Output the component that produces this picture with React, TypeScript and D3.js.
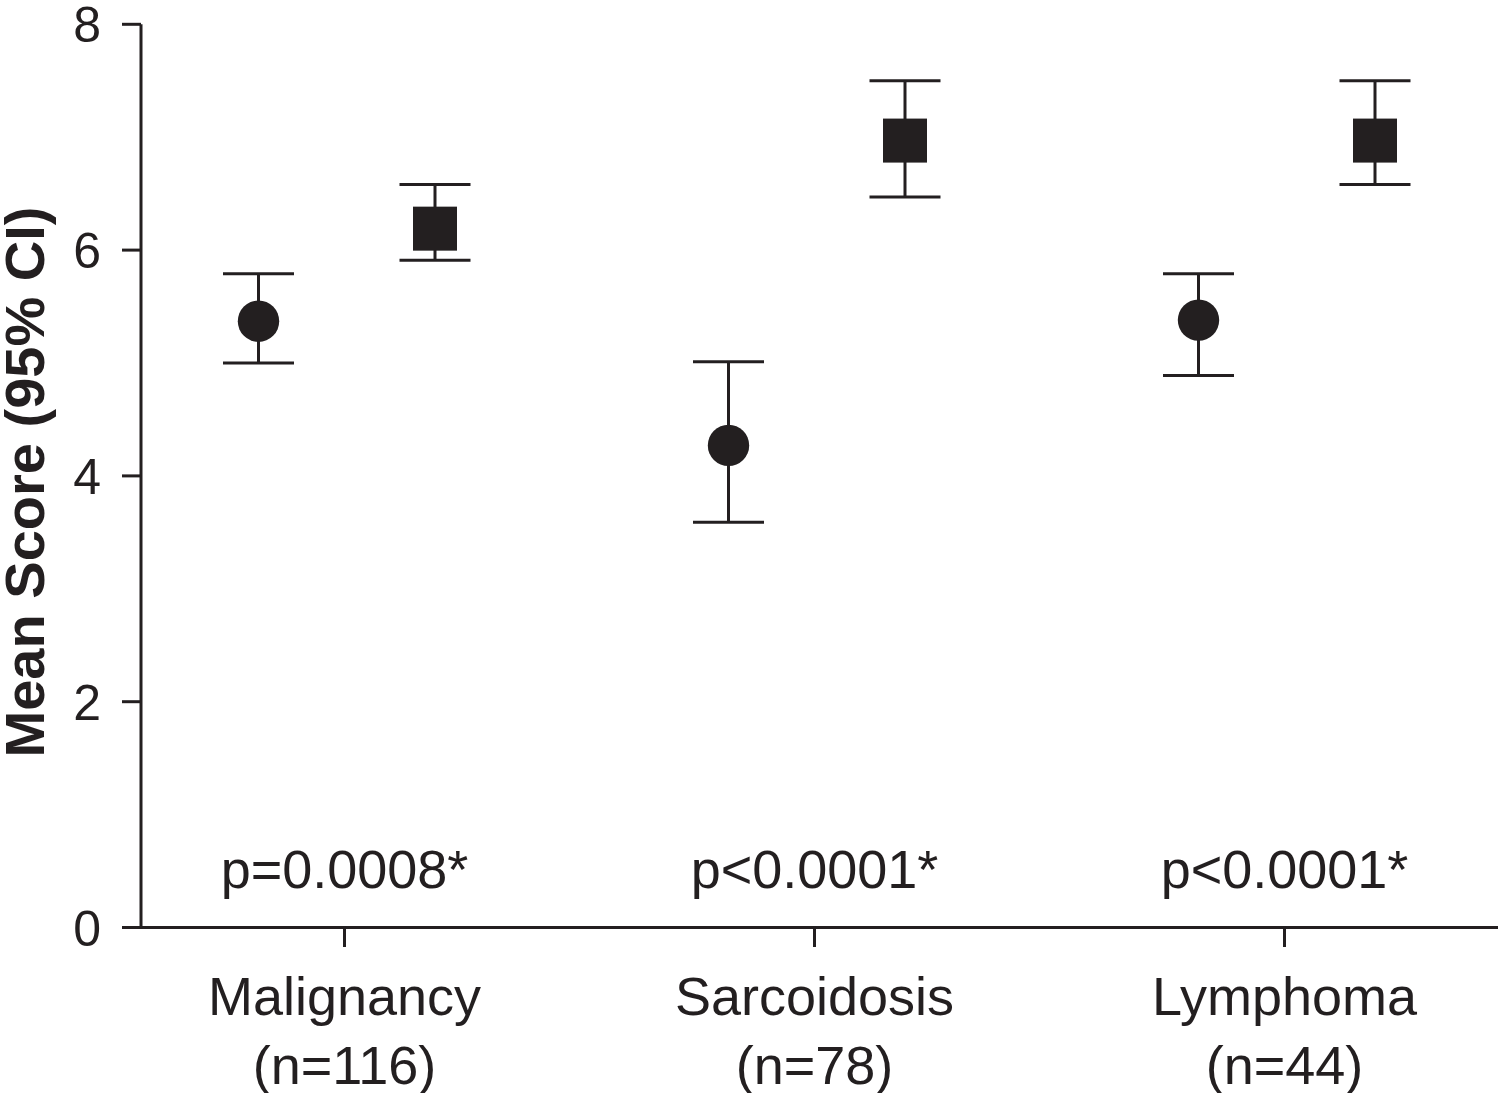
import React from "react";
import * as d3 from "d3";

const categories = ["Malignancy", "Sarcoidosis", "Lymphoma"];
const sampleSizes = ["(n=116)", "(n=78)", "(n=44)"];
const pValues = ["p=0.0008*", "p<0.0001*", "p<0.0001*"];

// series 1: circles
const circleMean = [5.37, 4.27, 5.38];
const circleLow = [5.0, 3.59, 4.89];
const circleHigh = [5.79, 5.01, 5.79];

// series 2: squares
const squareMean = [6.19, 6.97, 6.97];
const squareLow = [5.91, 6.47, 6.58];
const squareHigh = [6.58, 7.5, 7.5];

const yTicks = [0, 2, 4, 6, 8];

const W = 1500;
const H = 1093;
const INK = "#231f20";
const FONT = "Liberation Sans, Arial, Helvetica, sans-serif";

export default function App() {
  const y = d3.scaleLinear().domain([0, 8]).range([927.5, 24.3]);
  const x = d3.scalePoint<string>().domain(categories).range([344.5, 1284.5]);
  const xAxisLeft = 122;
  const xAxisRight = 1498;
  const yAxisX = 141;
  const capHalf = 35.5;
  const circleOffset = -86;
  const squareOffset = 90.5;
  const r = 20.7;
  const sq = 44;

  const errorBar = (cx: number, lo: number, hi: number, key: string) => (
    <g key={key} stroke={INK} strokeWidth={3}>
      <line x1={cx} x2={cx} y1={y(lo)} y2={y(hi)} />
      <line x1={cx - capHalf} x2={cx + capHalf} y1={y(lo)} y2={y(lo)} />
      <line x1={cx - capHalf} x2={cx + capHalf} y1={y(hi)} y2={y(hi)} />
    </g>
  );

  return (
    <svg
      width={W}
      height={H}
      viewBox={`0 0 ${W} ${H}`}
      style={{ position: "absolute", left: 0, top: 0, background: "#fff" }}
      fontFamily={FONT}
    >
      <rect width={W} height={H} fill="#fff" />
      {/* y axis */}
      <line x1={yAxisX} x2={yAxisX} y1={y(8)} y2={y(0)} stroke={INK} strokeWidth={3} />
      {yTicks.map((t) => (
        <g key={t}>
          <line x1={xAxisLeft} x2={yAxisX} y1={y(t)} y2={y(t)} stroke={INK} strokeWidth={3} />
          <text x={101} y={y(t)} dy="0.36em" textAnchor="end" fontSize={50} fill={INK}>
            {t}
          </text>
        </g>
      ))}
      {/* x axis */}
      <line x1={xAxisLeft} x2={xAxisRight} y1={y(0)} y2={y(0)} stroke={INK} strokeWidth={3} />
      {categories.map((c, i) => (
        <g key={c}>
          <line x1={x(c)!} x2={x(c)!} y1={y(0)} y2={947} stroke={INK} strokeWidth={3} />
          <text x={x(c)!} y={1015} textAnchor="middle" fontSize={54} fill={INK}>
            {c}
          </text>
          <text x={x(c)!} y={1084} textAnchor="middle" fontSize={54} fill={INK}>
            {sampleSizes[i]}
          </text>
          <text x={x(c)!} y={888} textAnchor="middle" fontSize={54} fill={INK}>
            {pValues[i]}
          </text>
        </g>
      ))}
      {/* y title */}
      <text
        transform={`translate(44, 482) rotate(-90)`}
        textAnchor="middle"
        fontSize={56}
        fontWeight="bold"
        fill={INK}
      >
        Mean Score (95% CI)
      </text>
      {/* error bars and markers */}
      {categories.map((c, i) => {
        const cx1 = x(c)! + circleOffset;
        const cx2 = x(c)! + squareOffset;
        return (
          <g key={"m" + c}>
            {errorBar(cx1, circleLow[i], circleHigh[i], "ec" + i)}
            {errorBar(cx2, squareLow[i], squareHigh[i], "es" + i)}
            <circle cx={cx1} cy={y(circleMean[i])} r={r} fill={INK} />
            <rect
              x={cx2 - sq / 2}
              y={y(squareMean[i]) - sq / 2}
              width={sq}
              height={sq}
              fill={INK}
            />
          </g>
        );
      })}
    </svg>
  );
}
